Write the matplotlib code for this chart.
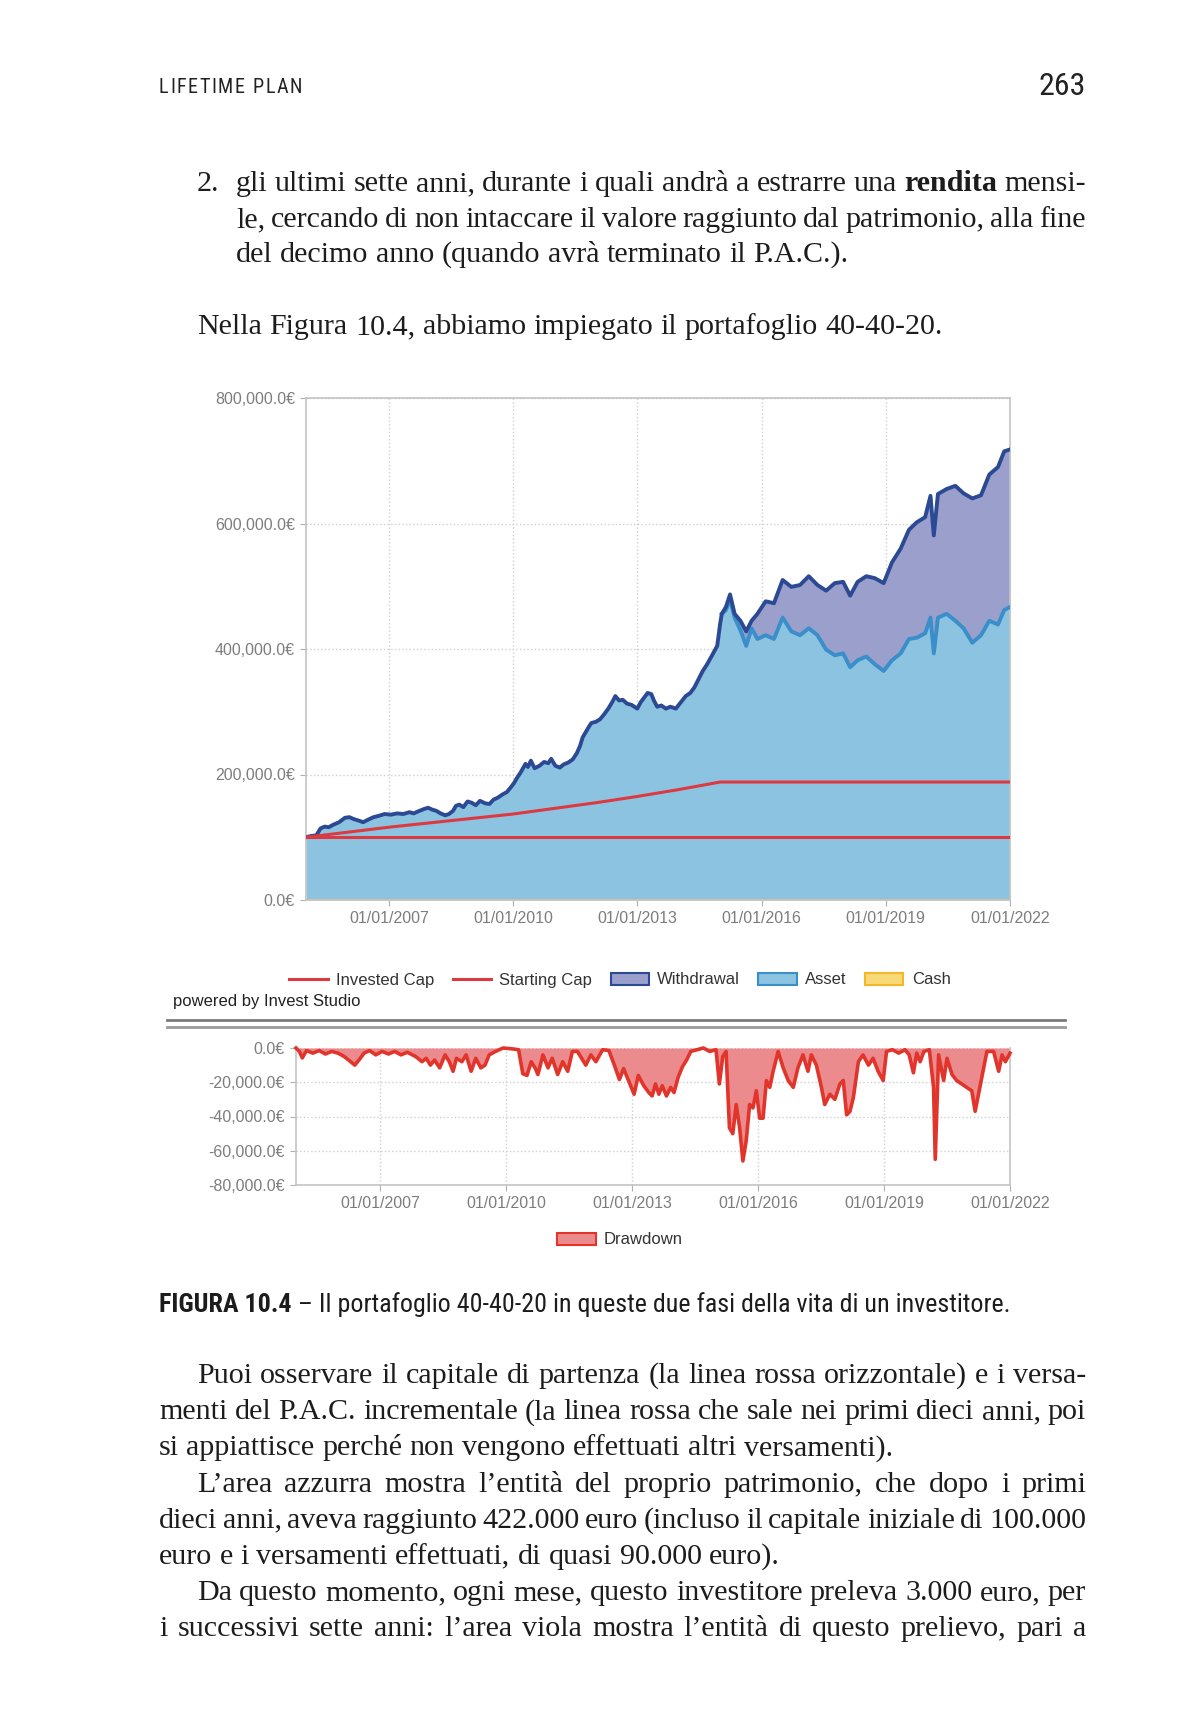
import numpy as np
import matplotlib
matplotlib.use('Agg')
import matplotlib.pyplot as plt
from matplotlib import font_manager as fm
from matplotlib.lines import Line2D
from matplotlib.patches import Patch
from matplotlib.ticker import FuncFormatter

# ---- data (values in thousand euro, x in decimal years) ----
pac_years = [2005.00, 2005.12, 2005.25, 2005.35, 2005.45, 2005.55, 2005.66, 2005.80, 2005.94, 2006.05,
             2006.15, 2006.25, 2006.38, 2006.50, 2006.63, 2006.75, 2006.90, 2007.05, 2007.20, 2007.35,
             2007.50, 2007.60, 2007.70, 2007.85, 2007.95, 2008.05, 2008.15, 2008.25, 2008.36, 2008.45,
             2008.55, 2008.62, 2008.70, 2008.80, 2008.90, 2009.00, 2009.10, 2009.20, 2009.33, 2009.43,
             2009.53, 2009.63, 2009.74, 2009.85, 2009.95, 2010.02, 2010.09, 2010.18, 2010.30, 2010.36,
             2010.43, 2010.52, 2010.64, 2010.75, 2010.85, 2010.92, 2011.02, 2011.13, 2011.22, 2011.33,
             2011.44, 2011.54, 2011.62, 2011.68, 2011.76, 2011.83, 2011.89, 2012.00, 2012.10, 2012.20,
             2012.30, 2012.40, 2012.47, 2012.56, 2012.65, 2012.75, 2012.86, 2013.00, 2013.08, 2013.16,
             2013.25, 2013.34, 2013.40, 2013.48, 2013.58, 2013.69, 2013.80, 2013.93, 2014.05, 2014.17,
             2014.28, 2014.38, 2014.48, 2014.58, 2014.68, 2014.79, 2014.93, 2015.00]
pac_wealth = [100, 102, 103, 114, 117, 116, 120, 124, 131, 132,
              129, 127, 124, 128, 132, 134, 137, 136, 138, 137,
              140, 138, 141, 145, 147, 144, 142, 138, 135, 137,
              142, 150, 152, 148, 157, 155, 151, 158, 154, 153,
              160, 163, 168, 172, 180, 186, 194, 203, 217, 212,
              222, 210, 214, 220, 218, 225, 214, 211, 216, 219,
              224, 234, 246, 259, 268, 276, 282, 284, 288, 296,
              305, 316, 325, 318, 319, 313, 311, 305, 315, 322,
              330, 328, 318, 308, 310, 305, 308, 305, 315, 325,
              330, 339, 352, 365, 375, 388, 405, 440]

ret_years = [2015.04, 2015.14, 2015.24, 2015.35, 2015.49, 2015.63, 2015.76, 2015.90, 2016.10, 2016.30,
             2016.51, 2016.72, 2016.93, 2017.14, 2017.35, 2017.56, 2017.77, 2017.97, 2018.14, 2018.32,
             2018.53, 2018.73, 2018.95, 2019.15, 2019.36, 2019.56, 2019.75, 2019.95, 2020.08, 2020.16,
             2020.26, 2020.47, 2020.68, 2020.88, 2021.09, 2021.30, 2021.50, 2021.71, 2021.86, 2022.00]
ret_total = [456, 467, 487, 456, 445, 428, 445, 456, 476, 473,
             510, 499, 502, 516, 502, 493, 505, 507, 485, 507,
             516, 513, 505, 538, 560, 590, 602, 610, 644, 581,
             647, 655, 660, 648, 640, 645, 678, 690, 715, 718]
ret_asset = [456, 462, 479, 450, 430, 405, 433, 416, 422, 416,
             450, 428, 422, 433, 422, 399, 390, 393, 371, 382,
             388, 376, 365, 382, 393, 416, 418, 425, 450, 393,
             450, 456, 445, 433, 410, 422, 445, 439, 462, 467]

invested_years = [2005, 2006, 2007, 2008, 2009, 2010, 2011, 2012, 2013, 2014, 2015, 2022]
invested_cap = [100, 108, 116, 123, 130, 137, 146, 155, 165, 176, 188, 188]
starting_years = [2005, 2022]
starting_cap = [100, 100]
cash_years = [2005, 2022]
cash_vals = [0, 0]

dd_years = [2005.00, 2005.08, 2005.15, 2005.25, 2005.40, 2005.55, 2005.70, 2005.85, 2006.00, 2006.15,
            2006.30, 2006.40, 2006.50, 2006.62, 2006.75, 2006.90, 2007.05, 2007.20, 2007.35, 2007.50,
            2007.65, 2007.85, 2008.00, 2008.10, 2008.20, 2008.30, 2008.42, 2008.55, 2008.65, 2008.74,
            2008.82, 2008.95, 2009.05, 2009.17, 2009.28, 2009.40, 2009.50, 2009.60, 2009.75, 2009.93,
            2010.15, 2010.30, 2010.40, 2010.50, 2010.60, 2010.70, 2010.76, 2010.88, 2011.00, 2011.10,
            2011.23, 2011.35, 2011.47, 2011.58, 2011.70, 2011.90, 2012.02, 2012.14, 2012.30, 2012.45,
            2012.58, 2012.70, 2012.80, 2012.95, 2013.05, 2013.15, 2013.28, 2013.40, 2013.48, 2013.56,
            2013.64, 2013.72, 2013.82, 2013.92, 2014.00, 2014.10, 2014.20, 2014.30, 2014.40, 2014.55,
            2014.70, 2014.85, 2015.00, 2015.08, 2015.16, 2015.24, 2015.32, 2015.40, 2015.48, 2015.56,
            2015.64, 2015.72, 2015.80, 2015.88, 2015.96, 2016.04, 2016.12, 2016.20, 2016.28, 2016.36,
            2016.48, 2016.60, 2016.72, 2016.84, 2016.95, 2017.07, 2017.19, 2017.27, 2017.39, 2017.51,
            2017.59, 2017.71, 2017.83, 2017.95, 2018.03, 2018.11, 2018.19, 2018.27, 2018.39, 2018.50,
            2018.63, 2018.74, 2018.86, 2018.98, 2019.06, 2019.20, 2019.35, 2019.50, 2019.60, 2019.70,
            2019.78, 2019.86, 2019.95, 2020.08, 2020.18, 2020.22, 2020.30, 2020.42, 2020.50, 2020.62,
            2020.73, 2020.85, 2020.97, 2021.09, 2021.17, 2021.25, 2021.37, 2021.45, 2021.61, 2021.73,
            2021.81, 2021.89, 2022.00]
drawdown = [0, -2, -5.8, -1.5, -3, -1.5, -3.5, -2, -3, -5,
            -8, -10, -7, -3, -1.5, -4, -2, -3.5, -2, -4,
            -2.5, -5, -8, -6, -10, -7, -11.6, -4, -8, -13.6,
            -6, -8, -4, -13.6, -6, -11.6, -10, -4, -2, 0,
            -0.5, -1, -15, -16, -8, -12, -15.5, -4, -11.6, -6,
            -15.5, -8, -13.6, -2, -2, -10, -4, -8, -1, -1.5,
            -10, -18.4, -12, -21, -27, -16, -22, -26, -28, -21,
            -27, -22, -28, -23, -26, -17, -11, -7, -2, -1,
            0, -2, -1, -21, -5, -2, -46.6, -50, -33, -46,
            -66, -54, -33, -35, -25, -41, -41, -19, -23, -13.6,
            -2, -11.6, -19, -23, -11.6, -4, -13.6, -4, -10, -23,
            -33, -27, -30, -21, -19, -39, -37, -29, -8, -4,
            -10, -6, -13.6, -19, -2, -1, -3, -1, -4, -14.5,
            -3, -8, -2, -1, -23, -65, -4, -19, -6, -15.5,
            -19, -21, -23, -25, -37, -27, -12, -2, -2, -13.6,
            -4, -8, -3]

tick_years = [2007, 2010, 2013, 2016, 2019, 2022]
tick_labels = ['01/01/2007', '01/01/2010', '01/01/2013', '01/01/2016', '01/01/2019', '01/01/2022']

# ---- page setup ----
W, H = 1196, 1718
names = {f.name for f in fm.fontManager.ttflist}


def pick(cands):
    for c in cands:
        if c in names:
            return c
    return 'DejaVu Sans'


SERIF = pick(['Liberation Serif', 'DejaVu Serif'])
NARROW = pick(['Liberation Sans Narrow', 'Roboto Condensed', 'DejaVu Sans Condensed', 'Liberation Sans'])
SANS = pick(['Liberation Sans', 'Arial', 'DejaVu Sans'])

fig = plt.figure(figsize=(W / 100, H / 100), dpi=100)
fig.patch.set_facecolor('white')
renderer = fig.canvas.get_renderer()


def fx(x):
    return x / W


def fy(y):
    return 1 - y / H


def wpx(t):
    return t.get_window_extent(renderer).width


def put_line(words, x0, y, x1=None, size=19.5, family=SERIF, color='#1c1c1c'):
    objs = []
    for w in words:
        bold = w.startswith('**')
        txt = w.strip('*')
        objs.append(fig.text(fx(x0), fy(y), txt, fontsize=size, family=family,
                             fontweight='bold' if bold else 'normal', color=color,
                             va='baseline', ha='left'))
    ws = [wpx(o) for o in objs]
    gap = size * 100 / 72 * 0.25
    if x1 is not None and len(objs) > 1:
        gap = (x1 - x0 - sum(ws)) / (len(objs) - 1)
    x = x0
    for o, w in zip(objs, ws):
        o.set_x(fx(x))
        x += w + gap


# body size: fit the free-standing line to its width in the page
probe = fig.text(0, 0, 'Nella Figura 10.4, abbiamo impiegato il portafoglio 40-40-20.', fontsize=20, family=SERIF)
BODY = 20 * 746 / wpx(probe)
probe.remove()

# header
head = 'LIFETIME PLAN'
chars = [fig.text(0, fy(93), c, fontsize=14.5, family=NARROW, color='#222', va='baseline')
         for c in head]
cw = [wpx(c) if ch != ' ' else 5 for c, ch in zip(chars, head)]
track = (143 - sum(cw)) / (len(head) - 1)
x = 159
for c, w in zip(chars, cw):
    c.set_x(fx(x))
    x += w + track
fig.text(fx(1086), fy(95), '263', fontsize=23, family=NARROW, color='#222', ha='right', va='baseline')

# text above the chart
fig.text(fx(197), fy(191), '2.', fontsize=BODY, family=SERIF, color='#1c1c1c', va='baseline')
put_line('gli ultimi sette anni, durante i quali andrà a estrarre una **rendita** mensi-'.split(), 236, 191, 1086, BODY)
put_line('le, cercando di non intaccare il valore raggiunto dal patrimonio, alla fine'.split(), 236, 227, 1086, BODY)
put_line('del decimo anno (quando avrà terminato il P.A.C.).'.split(), 236, 262, None, BODY)
put_line('Nella Figura 10.4, abbiamo impiegato il portafoglio 40-40-20.'.split(), 197, 334, None, BODY)

# ---- main chart ----
years_all = pac_years + ret_years
total_all = [v * 1000 for v in pac_wealth + ret_total]
asset_all = [v * 1000 for v in pac_wealth + ret_asset]

C_ASSET = '#8cc3e1'
C_ASSET_E = '#3a8fca'
C_WITH = '#9a9fcb'
C_WITH_E = '#2c4994'
C_RED = '#dc3a40'
C_GRID = '#cfcfcf'
C_SPINE = '#c4c4c4'
C_TICK = '#7d7d7d'

ax = fig.add_axes([fx(306), fy(900), (1010 - 306) / W, (900 - 398) / H])
ax.fill_between(years_all, 0, asset_all, color=C_ASSET, lw=0, zorder=1)
ax.fill_between(years_all, asset_all, total_all, color=C_WITH, lw=0, zorder=1)
ax.fill_between(cash_years, 0, cash_vals, color='#f8d978', lw=0, zorder=1)
ax.plot(cash_years, cash_vals, color='#f2c23a', lw=1.5, zorder=2)
ax.plot(ret_years, [v * 1000 for v in ret_asset], color=C_ASSET_E, lw=2.8, zorder=3)
ax.plot(years_all, total_all, color=C_WITH_E, lw=2.8, zorder=4)
ax.plot(invested_years, [v * 1000 for v in invested_cap], color=C_RED, lw=2.2, zorder=5)
ax.plot(starting_years, [v * 1000 for v in starting_cap], color=C_RED, lw=2.2, zorder=5)

ax.set_xlim(2005, 2022)
ax.set_ylim(0, 800000)
ax.set_xticks(tick_years)
ax.set_xticklabels(tick_labels)
ax.set_yticks([0, 200000, 400000, 600000, 800000])
ax.yaxis.set_major_formatter(FuncFormatter(lambda v, p: f'{v:,.1f}€'))

ax2 = fig.add_axes([fx(296), fy(1185), (1010 - 296) / W, (1185 - 1048) / H])
dd = [v * 1000 for v in drawdown]
ax2.fill_between(dd_years, 0, dd, color='#ec8b8e', lw=0, zorder=1)
ax2.plot(dd_years, dd, color='#e1352c', lw=2.6, zorder=3, clip_on=False)
ax2.set_xlim(2005, 2022)
ax2.set_ylim(-80000, 0)
ax2.set_xticks(tick_years)
ax2.set_xticklabels(tick_labels)
ax2.set_yticks([0, -20000, -40000, -60000, -80000])
ax2.yaxis.set_major_formatter(FuncFormatter(lambda v, p: f'{v:,.1f}€'))

for a in (ax, ax2):
    a.set_facecolor('white')
    a.grid(True, color=C_GRID, ls=':', lw=1, zorder=0)
    a.set_axisbelow(True)
    for s in a.spines.values():
        s.set_color(C_SPINE)
        s.set_linewidth(1.2)
    a.tick_params(length=4, color='#b0b0b0', labelsize=11.5, labelcolor=C_TICK, pad=4)
    for lab in a.get_xticklabels() + a.get_yticklabels():
        lab.set_family(SANS)
ax2.spines['top'].set_visible(False)

# legends
handles = [Line2D([], [], color=C_RED, lw=2.2),
           Line2D([], [], color=C_RED, lw=2.2),
           Patch(facecolor=C_WITH, edgecolor=C_WITH_E, lw=1.5),
           Patch(facecolor=C_ASSET, edgecolor=C_ASSET_E, lw=1.5),
           Patch(facecolor='#f8d978', edgecolor='#f2b82a', lw=1.5)]
lg = fig.legend(handles, ['Invested Cap', 'Starting Cap', 'Withdrawal', 'Asset', 'Cash'],
                loc='center', bbox_to_anchor=(fx(620), fy(980)), ncol=5, frameon=False,
                prop={'family': SANS, 'size': 12}, handlelength=2.3, handletextpad=0.5,
                columnspacing=1.1)
for t in lg.get_texts():
    t.set_color('#333')
fig.text(fx(173), fy(1001), 'powered by Invest Studio', fontsize=12, family=SANS, color='#222', va='center')

lg2 = fig.legend([Patch(facecolor='#ec8b8e', edgecolor='#e1352c', lw=1.5)], ['Drawdown'],
                 loc='center', bbox_to_anchor=(fx(620), fy(1240)), frameon=False,
                 prop={'family': SANS, 'size': 12}, handlelength=2.3, handletextpad=0.5)
lg2.get_texts()[0].set_color('#333')

fig.add_artist(Line2D([fx(167), fx(1065)], [fy(1020), fy(1020)], color='#7a7a7a', lw=2))
fig.add_artist(Line2D([fx(167), fx(1065)], [fy(1027), fy(1027)], color='#9a9a9a', lw=2))

# caption, sized to run from the left margin to the chart's right edge
cap_b = fig.text(0, fy(1312), 'FIGURA 10.4', fontsize=16, family=NARROW, fontweight='bold',
                 color='#1c1c1c', va='baseline')
cap_r = fig.text(0, fy(1312), ' – Il portafoglio 40-40-20 in queste due fasi della vita di un investitore.',
                 fontsize=16, family=NARROW, color='#1c1c1c', va='baseline')
cap_size = 16 * 852 / (wpx(cap_b) + wpx(cap_r))
cap_b.set_fontsize(cap_size)
cap_r.set_fontsize(cap_size)
cap_b.set_x(fx(159))
cap_r.set_x(fx(159 + wpx(cap_b)))

# text below the chart
lines = [
    ('Puoi osservare il capitale di partenza (la linea rossa orizzontale) e i versa-', 197, True),
    ('menti del P.A.C. incrementale (la linea rossa che sale nei primi dieci anni, poi', 159, True),
    ('si appiattisce perché non vengono effettuati altri versamenti).', 159, False),
    ('L’area azzurra mostra l’entità del proprio patrimonio, che dopo i primi', 197, True),
    ('dieci anni, aveva raggiunto 422.000 euro (incluso il capitale iniziale di 100.000', 159, True),
    ('euro e i versamenti effettuati, di quasi 90.000 euro).', 159, False),
    ('Da questo momento, ogni mese, questo investitore preleva 3.000 euro, per', 197, True),
    ('i successivi sette anni: l’area viola mostra l’entità di questo prelievo, pari a', 159, True),
]
y = 1383
for txt, x0, just in lines:
    put_line(txt.split(), x0, y, 1086 if just else None, BODY)
    y += 36.2

fig.savefig('out.png', dpi=100, facecolor='white')
